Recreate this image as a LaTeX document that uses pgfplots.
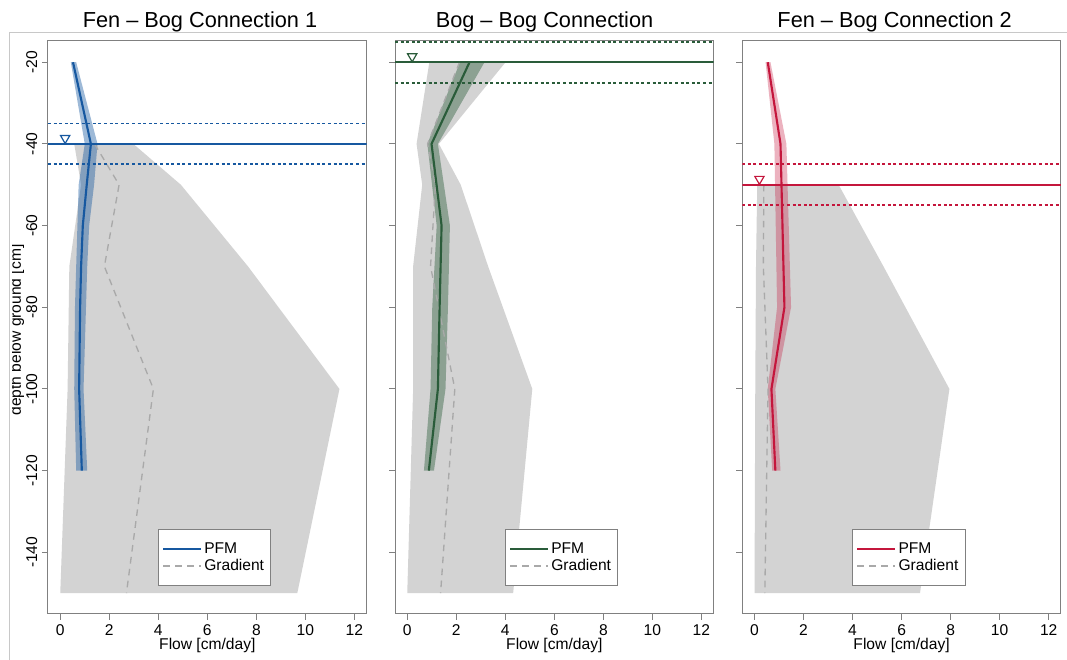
\documentclass[border=0pt]{standalone}
\usepackage{fontspec}
\setmainfont{Liberation Sans}
\usepackage{pgfplots}
\pgfplotsset{compat=1.18}
\definecolor{blueC}{RGB}{22,88,160}
\definecolor{greenC}{RGB}{42,92,58}
\definecolor{redC}{RGB}{196,22,60}
\definecolor{areaC}{RGB}{211,211,211}
\definecolor{gradC}{RGB}{169,169,169}
\definecolor{frameC}{RGB}{128,128,128}
\definecolor{outerC}{RGB}{200,200,200}
\newcommand{\fs}{\fontsize{11.7}{14}\selectfont}
\pgfplotsset{
 panel/.style={
  width=239pt, height=429.75pt, scale only axis,
  xmin=-0.5, xmax=12.5, ymin=-155.1, ymax=-14.8,
  xtick={0,2,...,12}, ytick={-140,-120,...,-20},
  tick align=outside, xtick pos=bottom, ytick pos=left,
  axis line style={frameC, line width=0.75pt},
  tick style={frameC, line width=0.75pt},
  major tick length=4.5pt,
  /pgf/number format/assume math mode=true,
  tick label style={font=\fs},
  xlabel={Flow [cm/day]},
  xlabel style={font=\fs, at={(axis description cs:0.5,0)}, anchor=base, yshift=-27pt},
  legend style={at={(0.344,0.048)}, anchor=south west, draw=frameC, line width=0.75pt, font=\fs, inner xsep=3pt, inner ysep=8pt, row sep=-0.8pt, cells={anchor=west}},
  legend image code/.code={\draw[##1] (0pt,0pt) -- (22pt,0pt); \path (0pt,0pt) -- (28pt,0pt);},
 },
 pfm/.style={line width=1.6pt, line join=round},
 gradl/.style={gradC, line width=1pt, dash pattern=on 5pt off 4pt},
 hsolid/.style={line width=1.2pt},
 hdot/.style={line width=1.4pt, dash pattern=on 2.2pt off 2pt},
 tri/.style={only marks, mark=triangle, mark size=4pt, mark options={rotate=180, line width=0.9pt, solid}},
}
\begin{document}
\begin{tikzpicture}
% ---------- Panel 1 ----------
\begin{axis}[panel, at={(0pt,0pt)}, anchor=south west,
  yticklabel style={rotate=90, anchor=south}]
\addlegendimage{blueC, pfm}\addlegendentry{PFM}
\addlegendimage{gradl}\addlegendentry{Gradient}
\addplot[fill=areaC, draw=none, forget plot] coordinates {(2.98,-40) (4.92,-50) (7.66,-70) (11.39,-100) (9.67,-150) (0,-150) (0.3,-100) (0.37,-70) (0.85,-50) (0.57,-40)} -- cycle;
\addplot[fill=blueC, fill opacity=0.42, draw=none, forget plot] coordinates {(0.65,-20) (1.52,-40) (1.38,-50) (1.18,-60) (1.1,-70) (1.05,-80) (0.95,-100) (1.1,-120) (0.65,-120) (0.57,-100) (0.6,-80) (0.65,-70) (0.7,-60) (0.75,-50) (1.0,-40) (0.43,-20)} -- cycle;
\addplot[gradl, forget plot] coordinates {(1.4,-40) (2.4,-50) (1.8,-70) (3.8,-100) (2.7,-150)};
\addplot[blueC, pfm, forget plot] coordinates {(0.52,-20) (1.25,-40) (1.08,-50) (0.92,-60) (0.85,-70) (0.81,-80) (0.77,-100) (0.88,-120)};
\addplot[blueC, hsolid, forget plot] coordinates {(-0.5,-40) (12.5,-40)};
\addplot[blueC, hdot, forget plot] coordinates {(-0.5,-35) (12.5,-35)};
\addplot[blueC, hdot, forget plot] coordinates {(-0.5,-45) (12.5,-45)};
\addplot[blueC, tri, forget plot] coordinates {(0.2,-38.6)};
\end{axis}
% ---------- Panel 2 ----------
\begin{axis}[panel, at={(260.25pt,0pt)}, anchor=south west, yticklabels={}]
\addlegendimage{greenC, pfm}\addlegendentry{PFM}
\addlegendimage{gradl}\addlegendentry{Gradient}
\addplot[fill=areaC, draw=none, forget plot] coordinates {(4.01,-20) (1.29,-40) (2.18,-50) (3.3,-70) (5.1,-100) (4.32,-150) (0,-150) (0.24,-100) (0.24,-70) (0.61,-50) (0.38,-40) (0.9,-20)} -- cycle;
\addplot[fill=greenC, fill opacity=0.42, draw=none, forget plot] coordinates {(3.15,-20) (1.25,-40) (1.74,-60) (1.66,-80) (1.56,-100) (1.09,-120) (0.68,-120) (0.95,-100) (1.02,-80) (1.2,-60) (0.82,-40) (2.15,-20)} -- cycle;
\addplot[gradl, forget plot] coordinates {(2.13,-20) (0.83,-40) (1.15,-50) (0.95,-70) (1.94,-100) (1.36,-150)};
\addplot[greenC, pfm, forget plot] coordinates {(2.54,-20) (0.99,-40) (1.4,-60) (1.32,-80) (1.25,-100) (0.88,-120)};
\addplot[greenC, hsolid, forget plot] coordinates {(-0.5,-20) (12.5,-20)};
\addplot[greenC, hdot, forget plot] coordinates {(-0.5,-15) (12.5,-15)};
\addplot[greenC, hdot, forget plot] coordinates {(-0.5,-25) (12.5,-25)};
\addplot[greenC, tri, forget plot] coordinates {(0.2,-18.6)};
\end{axis}
% ---------- Panel 3 ----------
\begin{axis}[panel, at={(520.7pt,0pt)}, anchor=south west, yticklabels={}]
\addlegendimage{redC, pfm}\addlegendentry{PFM}
\addlegendimage{gradl}\addlegendentry{Gradient}
\addplot[fill=areaC, draw=none, forget plot] coordinates {(3.43,-50) (5.26,-70) (7.95,-100) (6.75,-150) (0,-150) (0.03,-100) (0.06,-70) (0.11,-50)} -- cycle;
\addplot[fill=redC, fill opacity=0.33, draw=none, forget plot] coordinates {(0.65,-20) (1.30,-40) (1.49,-80) (0.85,-100) (1.06,-120) (0.72,-120) (0.54,-100) (0.92,-80) (0.81,-40) (0.45,-20)} -- cycle;
\addplot[gradl, forget plot] coordinates {(0.38,-50) (0.36,-70) (0.55,-100) (0.42,-150)};
\addplot[redC, pfm, forget plot] coordinates {(0.54,-20) (1.06,-40) (1.22,-80) (0.69,-100) (0.85,-120)};
\addplot[redC, hsolid, forget plot] coordinates {(-0.5,-50) (12.5,-50)};
\addplot[redC, hdot, forget plot] coordinates {(-0.5,-45) (12.5,-45)};
\addplot[redC, hdot, forget plot] coordinates {(-0.5,-55) (12.5,-55)};
\addplot[redC, tri, forget plot] coordinates {(0.2,-48.6)};
\end{axis}
% ---------- titles, outer frame, y label ----------
\node[anchor=base, font=\fontsize{16.3}{19}\selectfont, inner sep=0pt] at (114pt,439.5pt) {Fen – Bog Connection 1};
\node[anchor=base, font=\fontsize{16.3}{19}\selectfont, inner sep=0pt] at (372.4pt,439.5pt) {Bog – Bog Connection};
\node[anchor=base, font=\fontsize{16.3}{19}\selectfont, inner sep=0pt] at (635pt,439.5pt) {Fen – Bog Connection 2};
\draw[outerC, line width=0.75pt] (-29.25pt,-34.5pt) -- (-29.25pt,435.75pt) -- (764.25pt,435.75pt);
\begin{scope}
\clip (-26.5pt,0pt) rectangle (-5pt,429.75pt);
\node[rotate=90, anchor=base, font=\fs, inner sep=0pt] at (-20.25pt,213pt) {depth below ground [cm]};
\end{scope}
\pgfresetboundingbox
\useasboundingbox (-36pt,-34.5pt) rectangle (764.25pt,460.5pt);
\end{tikzpicture}
\end{document}
